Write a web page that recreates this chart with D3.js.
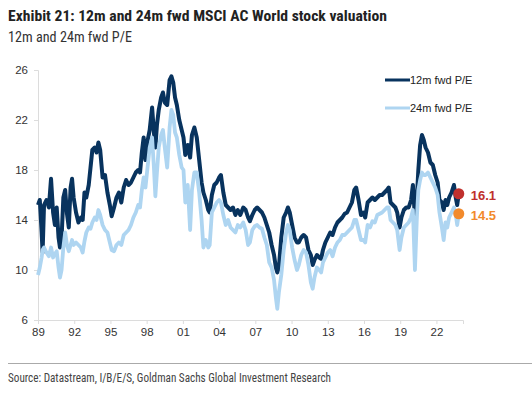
<!DOCTYPE html>
<html>
<head>
<meta charset="utf-8">
<script src="https://cdn.jsdelivr.net/npm/d3@7"></script>
<style>
  body { margin: 0; background: #fff; }
  svg { display: block; }
</style>
</head>
<body>
<script>
// approximate readings (decimal year)
var dates = [
  1989.00, 1989.15, 1989.30, 1989.38, 1989.50, 1989.70, 1989.90, 1990.08, 1990.25, 1990.40,
  1990.55, 1990.70, 1990.82, 1990.95, 1991.10, 1991.25, 1991.40, 1991.55, 1991.70, 1991.82,
  1991.95, 1992.15, 1992.35, 1992.55, 1992.70, 1992.85, 1993.00, 1993.20, 1993.35, 1993.50,
  1993.70, 1993.85, 1994.00, 1994.15, 1994.35, 1994.55, 1994.75, 1994.95, 1995.10, 1995.30,
  1995.50, 1995.70, 1995.90, 1996.10, 1996.30, 1996.50, 1996.70, 1996.90, 1997.10, 1997.30,
  1997.45, 1997.60, 1997.75, 1997.90, 1998.05, 1998.25, 1998.45, 1998.60, 1998.72, 1998.85,
  1999.00, 1999.20, 1999.35, 1999.50, 1999.70, 1999.90, 2000.05, 2000.20, 2000.35, 2000.50,
  2000.70, 2000.90, 2001.05, 2001.20, 2001.40, 2001.60, 2001.75, 2001.95, 2002.15, 2002.35,
  2002.55, 2002.70, 2002.90, 2003.10, 2003.22, 2003.40, 2003.60, 2003.80, 2004.00, 2004.15,
  2004.35, 2004.55, 2004.75, 2004.95, 2005.15, 2005.35, 2005.55, 2005.75, 2006.00, 2006.20,
  2006.40, 2006.55, 2006.75, 2006.95, 2007.15, 2007.35, 2007.55, 2007.75, 2007.95, 2008.15,
  2008.35, 2008.55, 2008.70, 2008.82, 2008.95, 2009.15, 2009.35, 2009.55, 2009.70, 2009.85,
  2010.05, 2010.25, 2010.45, 2010.60, 2010.80, 2011.00, 2011.20, 2011.40, 2011.60, 2011.75,
  2011.90, 2012.10, 2012.30, 2012.45, 2012.60, 2012.80, 2013.00, 2013.20, 2013.40, 2013.60,
  2013.80, 2014.00, 2014.20, 2014.40, 2014.60, 2014.80, 2015.00, 2015.20, 2015.35, 2015.55,
  2015.75, 2015.95, 2016.10, 2016.30, 2016.50, 2016.70, 2016.90, 2017.10, 2017.30, 2017.50,
  2017.70, 2017.90, 2018.05, 2018.20, 2018.40, 2018.60, 2018.75, 2018.95, 2019.10, 2019.30,
  2019.50, 2019.70, 2019.90, 2020.05, 2020.22, 2020.38, 2020.50, 2020.65, 2020.80, 2020.95,
  2021.10, 2021.30, 2021.50, 2021.70, 2021.90, 2022.10, 2022.25, 2022.45, 2022.60, 2022.75,
  2022.90, 2023.05, 2023.25, 2023.45, 2023.60, 2023.72, 2023.85
];

var pe12m = [
  15.2, 15.6, 13.0, 11.4, 15.2, 15.6, 15.0, 17.3, 14.6, 13.6,
  15.0, 12.6, 11.8, 12.5, 15.8, 16.4, 14.5, 13.4, 16.6, 17.3,
  15.8, 14.6, 13.8, 14.2, 14.0, 16.2, 15.8, 16.8, 18.2, 19.6,
  19.8, 19.4, 20.2, 19.6, 17.4, 17.6, 16.2, 15.2, 14.3, 15.0,
  15.8, 16.2, 15.4, 16.6, 17.2, 16.8, 17.0, 17.4, 17.8, 18.0,
  17.8, 19.4, 20.6, 18.8, 20.2, 21.2, 23.0, 21.0, 19.8, 21.6,
  22.8, 23.8, 24.2, 23.4, 23.2, 25.2, 25.5, 25.0, 23.8, 23.2,
  22.0, 21.2, 20.6, 19.2, 20.0, 19.0, 20.8, 21.4, 20.6, 18.8,
  17.0, 16.2, 15.6, 14.8, 14.6, 16.0, 16.8, 17.0, 17.4, 17.6,
  16.2, 15.2, 15.0, 14.8, 15.0, 14.4, 14.8, 14.4, 15.0, 14.8,
  14.2, 13.9, 14.4, 14.8, 15.0, 14.8, 14.6, 14.2, 13.6, 13.0,
  12.0, 11.2, 10.2, 9.8, 10.2, 12.6, 14.2, 14.6, 15.0, 14.6,
  13.6, 12.6, 12.2, 12.2, 12.6, 12.8, 12.6, 11.6, 11.2, 10.4,
  10.8, 11.2, 11.0, 10.9, 11.6, 12.2, 12.6, 13.0, 12.8, 13.4,
  13.8, 14.0, 14.2, 14.5, 14.6, 15.0, 15.4, 16.4, 16.6, 15.6,
  14.4, 14.6, 14.2, 15.4, 15.6, 15.8, 15.6, 15.8, 16.0, 16.0,
  16.2, 16.4, 16.6, 15.4, 15.2, 15.0, 14.6, 13.4, 14.2, 14.8,
  15.0, 15.0, 15.6, 16.8, 14.2, 15.8, 18.0, 20.0, 20.8, 20.4,
  19.8, 19.4, 18.6, 18.4, 17.6, 17.0, 15.6, 15.4, 14.8, 15.6,
  15.2, 15.8, 16.2, 16.8, 15.8, 15.2, 16.1
];

var pe24m = [
  9.6, 10.2, 11.0, 11.6, 11.8, 11.4, 11.1, 11.8, 11.0, 11.3,
  11.5, 10.2, 9.4, 10.0, 11.8, 13.0, 12.0, 11.5, 12.0, 12.4,
  12.0, 12.2, 12.0, 11.8, 11.4, 12.3, 13.0, 13.4, 13.3, 13.8,
  14.2, 14.0, 14.8, 14.4, 13.6, 13.2, 13.0, 12.2, 11.6, 11.5,
  12.0, 12.2, 12.0, 12.8, 13.0, 13.2, 13.6, 14.2, 14.6, 15.2,
  15.0, 16.4, 17.4, 16.6, 18.0, 19.8, 20.6, 18.2, 15.9, 17.8,
  19.8, 20.8, 21.2, 19.8, 18.2, 21.4, 22.8, 22.4, 21.0, 20.6,
  19.2, 18.2, 18.0, 15.4, 16.8, 13.2, 16.4, 17.8, 17.8, 16.2,
  14.0, 11.8, 12.4, 11.8, 12.0, 14.6, 15.0, 15.4, 15.6, 15.4,
  14.4, 13.6, 14.0, 13.4, 13.2, 13.0, 13.6, 13.4, 13.8, 13.2,
  12.0, 12.2, 13.2, 13.5, 13.6, 13.4, 13.3, 12.6, 12.0, 10.6,
  10.2, 9.2, 7.8, 6.9, 8.2, 9.6, 11.6, 13.0, 13.6, 13.2,
  11.8, 10.8, 10.0, 10.4, 11.2, 11.6, 11.4, 10.4, 9.0, 8.5,
  9.4, 10.2, 10.0, 9.8, 10.6, 11.0, 11.4, 11.6, 11.1, 11.8,
  12.2, 12.4, 12.8, 12.8, 13.0, 13.2, 13.4, 14.0, 14.0, 13.2,
  12.4, 12.4, 12.2, 13.6, 13.4, 13.9, 13.8, 14.4, 14.5, 14.6,
  14.8, 15.0, 15.0, 14.0, 13.8, 13.6, 13.2, 11.6, 12.6, 13.4,
  13.6, 13.8, 14.2, 14.8, 10.0, 14.2, 16.4, 17.2, 17.8, 17.6,
  17.6, 17.8, 17.4, 17.0, 16.6, 16.0, 14.6, 13.4, 12.4, 13.8,
  13.4, 14.2, 14.6, 15.0, 14.4, 13.6, 14.5
];

var xTickYears = [1989, 1992, 1995, 1998, 2001, 2004, 2007, 2010, 2013, 2016, 2019, 2022];
var xTickLabels = ["89", "92", "95", "98", "01", "04", "07", "10", "13", "16", "19", "22"];
var yTicks = [6, 10, 14, 18, 22, 26];
var seriesNames = ["12m fwd P/E", "24m fwd P/E"];
var lastValues = [16.1, 14.5];

var w = 532;
var h = 397;
var darkBlue = "#08335e";
var lightBlue = "#aed5f1";
var labelColors = ["#c0302d", "#f28a2c"];
var narrow = "'Liberation Sans Narrow', 'Arial Narrow', 'Roboto Condensed', sans-serif";

var svg = d3.select("body")
  .append("svg")
  .attr("width", w)
  .attr("height", h);

// titles
svg.append("text")
  .attr("x", 8).attr("y", 21)
  .attr("font-family", narrow)
  .attr("font-weight", "bold")
  .attr("font-size", 15)
  .attr("fill", "#222")
  .attr("textLength", 379)
  .attr("lengthAdjust", "spacingAndGlyphs")
  .text("Exhibit 21: 12m and 24m fwd MSCI AC World stock valuation");

svg.append("text")
  .attr("x", 8).attr("y", 42)
  .attr("font-family", narrow)
  .attr("font-size", 15)
  .attr("fill", "#333")
  .attr("textLength", 124)
  .attr("lengthAdjust", "spacingAndGlyphs")
  .text("12m and 24m fwd P/E");

var xScale = d3.scaleLinear()
  .domain([1989, 2024.2])
  .range([38, 463]);

var yScale = d3.scaleLinear()
  .domain([6, 26])
  .range([320, 70]);

// y axis
var yAxis = svg.append("g")
  .attr("transform", "translate(38,0)")
  .call(d3.axisLeft(yScale).tickValues(yTicks).tickSize(4).tickPadding(6));

// x axis
var xAxis = svg.append("g")
  .attr("transform", "translate(0,320)")
  .call(d3.axisBottom(xScale)
    .tickValues(xTickYears)
    .tickSize(4)
    .tickPadding(4)
    .tickFormat(function (d, i) { return xTickLabels[i]; }));

[yAxis, xAxis].forEach(function (ax) {
  ax.select(".domain").attr("stroke", "#dcdcdc");
  ax.selectAll(".tick line").attr("stroke", "#dcdcdc");
  ax.selectAll(".tick text")
    .attr("fill", "#333")
    .attr("font-family", "Arial, 'Liberation Sans', sans-serif")
    .attr("font-size", 11.5);
});

var line12 = d3.line()
  .x(function (d, i) { return xScale(dates[i]); })
  .y(function (d) { return yScale(d); });

svg.append("path")
  .datum(pe12m)
  .attr("fill", "none")
  .attr("stroke", darkBlue)
  .attr("stroke-width", 4)
  .attr("stroke-linejoin", "round")
  .attr("d", line12);

svg.append("path")
  .datum(pe24m)
  .attr("fill", "none")
  .attr("stroke", lightBlue)
  .attr("stroke-width", 3.8)
  .attr("stroke-linejoin", "round")
  .attr("d", line12);

// end markers
var lastDate = dates[dates.length - 1];
lastValues.forEach(function (v, i) {
  svg.append("circle")
    .attr("cx", xScale(lastDate))
    .attr("cy", yScale(v))
    .attr("r", 5.5)
    .attr("fill", labelColors[i]);
  svg.append("text")
    .attr("x", xScale(lastDate) + 12)
    .attr("y", yScale(v) + 6)
    .attr("font-family", "Arial, 'Liberation Sans', sans-serif")
    .attr("font-weight", "bold")
    .attr("font-size", 13)
    .attr("fill", labelColors[i])
    .text(v.toFixed(1));
});

// legend
var legend = svg.append("g");
seriesNames.forEach(function (name, i) {
  var ly = 80 + i * 28;
  legend.append("line")
    .attr("x1", 385).attr("x2", 410)
    .attr("y1", ly).attr("y2", ly)
    .attr("stroke", i === 0 ? darkBlue : lightBlue)
    .attr("stroke-width", 3);
  legend.append("text")
    .attr("x", 410).attr("y", ly + 4)
    .attr("font-family", "Arial, 'Liberation Sans', sans-serif")
    .attr("font-size", 11)
    .attr("fill", "#222")
    .text(name);
});

// footer
svg.append("line")
  .attr("x1", 8).attr("x2", 532)
  .attr("y1", 363.5).attr("y2", 363.5)
  .attr("stroke", "#aaa")
  .attr("stroke-width", 1);

svg.append("text")
  .attr("x", 8).attr("y", 382)
  .attr("font-family", narrow)
  .attr("font-size", 12)
  .attr("fill", "#444")
  .attr("textLength", 323)
  .attr("lengthAdjust", "spacingAndGlyphs")
  .text("Source: Datastream, I/B/E/S, Goldman Sachs Global Investment Research");
</script>
</body>
</html>
